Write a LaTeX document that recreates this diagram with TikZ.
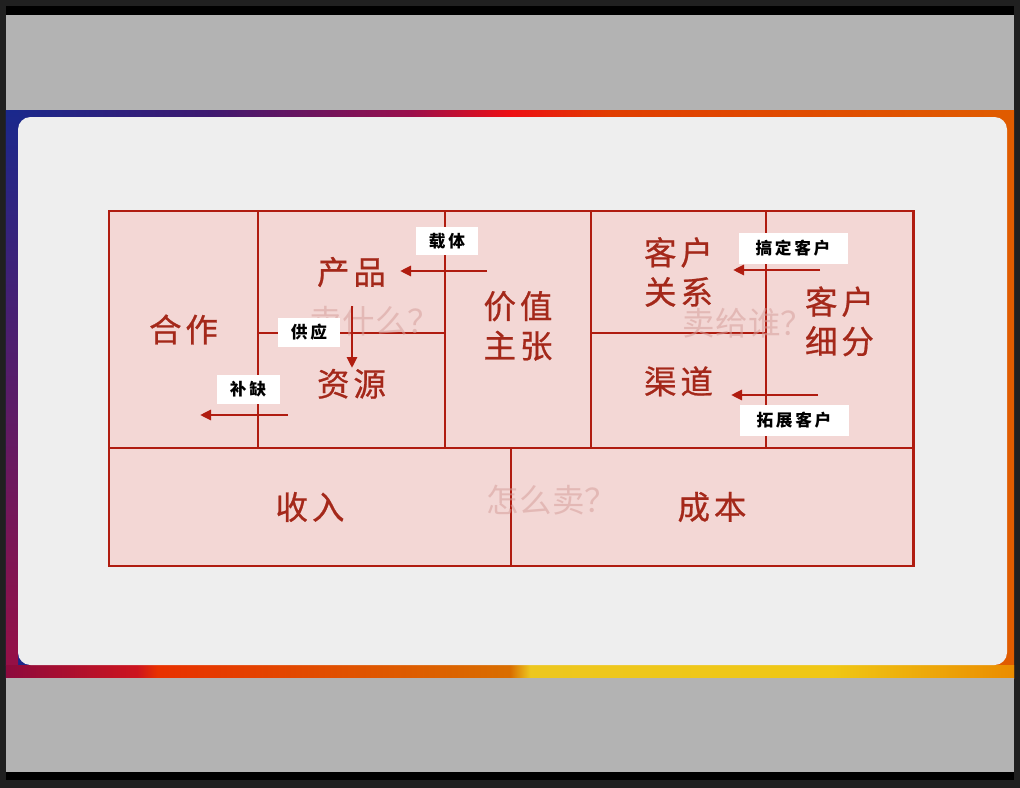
\documentclass[tikz,border=0pt]{standalone}
\usepackage{fontspec}
\setmainfont{Noto Sans CJK SC}
\newfontfamily\cellfont[FakeBold=0.7, LetterSpace=12]{Noto Sans CJK SC}
\newfontfamily\tagfont[LetterSpace=16]{Noto Sans CJK SC}
\usepackage{xcolor}
\usepackage{tikz}
\usetikzlibrary{positioning,arrows.meta}
\definecolor{cellpink}{RGB}{243,215,213}
\definecolor{gridred}{RGB}{176,28,16}
\definecolor{wordred}{RGB}{164,40,26}
\definecolor{hintpink}{RGB}{214,160,156}
\definecolor{panel}{RGB}{238,238,238}
\definecolor{band}{RGB}{179,179,179}
\definecolor{edge}{RGB}{32,32,32}
% frame colours, stops between 25bp and 75bp
\pgfdeclarehorizontalshading{topframe}{100bp}{
  rgb(0bp)=(0.10,0.16,0.55); rgb(25bp)=(0.10,0.16,0.55);
  rgb(35bp)=(0.24,0.10,0.44); rgb(45bp)=(0.60,0.06,0.30);
  rgb(50bp)=(0.93,0.06,0.08); rgb(55bp)=(0.88,0.24,0.0);
  rgb(75bp)=(0.88,0.36,0.0); rgb(100bp)=(0.88,0.36,0.0)}
\pgfdeclarehorizontalshading{bottomframe}{100bp}{
  rgb(0bp)=(0.55,0.04,0.24); rgb(25bp)=(0.55,0.04,0.24);
  rgb(31.5bp)=(0.80,0.08,0.12); rgb(32.5bp)=(0.91,0.19,0.0);
  rgb(50bp)=(0.85,0.43,0.0); rgb(51bp)=(0.93,0.78,0.12);
  rgb(66bp)=(0.94,0.78,0.08); rgb(75bp)=(0.92,0.55,0.0);
  rgb(100bp)=(0.92,0.55,0.0)}

\begin{document}
\begin{tikzpicture}[node distance=0cm, outer sep=0pt,
    cell/.style={draw=gridred, line width=1.7pt, rectangle, fill=cellpink, text=wordred, align=center, font=\cellfont\fontsize{18.5}{22.5}\selectfont},
    tag/.style={rectangle, fill=white, text=black, font=\tagfont\fontsize{9.5}{11}\selectfont\bfseries},
    hint/.style={text=hintpink, opacity=0.55, font=\fontsize{18.5}{22}\selectfont},
    flow/.style={draw=gridred, line width=1.7pt, -{Triangle[length=2.2mm,width=2mm]}}]
    \useasboundingbox (0,0) rectangle (20.4,-15.76);
    % screen around the slide
    \fill[edge] (0,0) rectangle (20.4,-15.76);
    \fill[black] (0.12,-0.12) rectangle (20.28,-0.30);
    \fill[band] (0.12,-0.30) rectangle (20.28,-2.20);
    \shade[shading=topframe] (0.12,-2.20) rectangle (20.28,-13.56);
    \shade[top color={rgb,255:red,26;green,40;blue,140}, bottom color={rgb,255:red,150;green,16;blue,70}] (0.12,-2.20) rectangle (0.36,-13.30);
    \shade[shading=bottomframe] (0.12,-13.30) rectangle (20.28,-13.56);
    \fill[band] (0.12,-13.56) rectangle (20.28,-15.44);
    \fill[black] (0.12,-15.44) rectangle (20.28,-15.60);
    \fill[panel, rounded corners=0.25cm] (0.36,-2.34) rectangle (20.14,-13.30);

    % canvas cells
    \node [cell, minimum width=2.98cm, minimum height=4.74cm, anchor=north west] (kp) at (2.18,-4.22) {合作};
    \node [cell, minimum width=3.74cm, minimum height=2.44cm, right=of kp.north east, anchor=north west] (prod) {产品};
    \node [cell, minimum width=3.74cm, minimum height=2.30cm, text depth=0.32cm, below=of prod] (res) {资源};
    \node [cell, minimum width=2.92cm, minimum height=4.74cm, text depth=0.2cm, right=of prod.north east, anchor=north west] (vp) {价值\\主张};
    \node [cell, minimum width=3.50cm, minimum height=2.44cm, right=of vp.north east, anchor=north west] (cr) {客户\\关系};
    \node [cell, minimum width=3.50cm, minimum height=2.30cm, text depth=0.42cm, below=of cr] (ch) {渠道};
    \node [cell, minimum width=2.94cm, minimum height=4.74cm, text depth=0.38cm, right=of cr.north east, anchor=north west] (cs) {客户\\细分};
    \node [cell, minimum width=8.04cm, minimum height=2.36cm, below=of kp.south west, anchor=north west] (rev) {收入};
    \node [cell, minimum width=8.04cm, minimum height=2.36cm, right=of rev] (cost) {成本};

    % faint questions
    \node [hint] (what) at (7.50,-6.42) {卖什么？};
    \node [hint] (whom) at (14.96,-6.46) {卖给谁？};
    \node [hint] (how) at (11.04,-10.00) {怎么卖？};

    % arrows
    \coordinate (carrier-a) at (9.74,-5.42);
    \coordinate (carrier-b) at (8.00,-5.42);
    \coordinate (supply-a) at (7.04,-6.12);
    \coordinate (supply-b) at (7.04,-7.36);
    \coordinate (gap-a) at (5.76,-8.30);
    \coordinate (gap-b) at (4.00,-8.30);
    \coordinate (win-a) at (16.40,-5.40);
    \coordinate (win-b) at (14.66,-5.40);
    \coordinate (grow-a) at (16.36,-7.90);
    \coordinate (grow-b) at (14.62,-7.90);
    \draw [flow] (carrier-a) -- (carrier-b);
    \draw [flow] (supply-a) -- (supply-b);
    \draw [flow] (gap-a) -- (gap-b);
    \draw [flow] (win-a) -- (win-b);
    \draw [flow] (grow-a) -- (grow-b);

    % white tags
    \node [tag, minimum width=1.24cm, minimum height=0.56cm] (carrier) at (8.94,-4.82) {载体};
    \node [tag, minimum width=1.24cm, minimum height=0.58cm] (supply) at (6.18,-6.65) {供应};
    \node [tag, minimum width=1.26cm, minimum height=0.58cm] (gap) at (4.96,-7.79) {补缺};
    \node [tag, minimum width=2.18cm, minimum height=0.62cm] (win) at (15.86,-4.97) {搞定客户};
    \node [tag, minimum width=2.18cm, minimum height=0.62cm] (grow) at (15.88,-8.41) {拓展客户};
\end{tikzpicture}
\end{document}
